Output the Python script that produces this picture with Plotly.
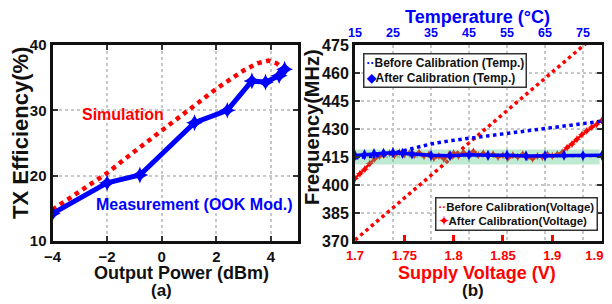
import plotly.graph_objects as go

FONT = "Liberation Sans, Arial, sans-serif"
BLUE = "#0000ff"
RED = "#ff0000"
BLACK = "#111111"
GRID = "#c8c8c8"

# ---------------- (a) TX efficiency vs output power ----------------
sim_power = [-4, -3, -2, -1, 0, 1, 2, 3, 3.5, 3.9, 4.2, 4.5]
sim_eff = [14.8, 17.6, 20.4, 23.7, 26.9, 30.2, 33.3, 36.1, 37.2, 37.6, 37.2, 36.3]

meas_power = [-4, -2, -0.8, 1.2, 2.4, 3.3, 3.8, 4.3, 4.5]
meas_eff = [14.2, 18.9, 20.1, 28.1, 30.0, 34.5, 34.3, 35.3, 36.3]

power_ticks = [-4, -2, 0, 2, 4]
eff_ticks = [10, 20, 30, 40]

# ---------------- (b) frequency vs temperature / supply voltage ----------------
temp_before_t = [15, 20, 25, 30, 35, 40, 45, 50, 55, 60, 65, 70, 75, 80]
temp_before_f = [414.5, 415.5, 417.0, 419.5, 422.0, 423.7, 425.0, 426.4, 427.7, 429.0, 430.3, 431.7, 433.0, 434.2]

temp_after_t = [15, 17.5, 20, 22.5, 25, 27.5, 30, 35, 40, 45, 50, 55, 60, 65, 70, 75, 80]
temp_after_f = [415.8, 416.3, 416.8, 417.0, 417.3, 416.9, 416.6, 415.9, 415.7, 416.2, 415.9,
                416.0, 415.6, 415.7, 416.0, 415.8, 415.9]

volt_before_v = [1.70, 1.75, 1.80, 1.85, 1.90, 1.95]
volt_before_f = [370.5, 393.0, 415.5, 438.0, 460.5, 483.0]

volt_after_v = [1.700, 1.705, 1.710, 1.715, 1.720, 1.725, 1.730, 1.735, 1.740, 1.745,
                1.750, 1.755, 1.760, 1.765, 1.770, 1.775, 1.780, 1.785, 1.790, 1.795,
                1.800, 1.805, 1.810, 1.815, 1.820, 1.825, 1.830, 1.835, 1.840, 1.845,
                1.850, 1.855, 1.860, 1.865, 1.870, 1.875, 1.880, 1.885, 1.890, 1.895,
                1.900, 1.905, 1.910, 1.915, 1.920, 1.925, 1.930, 1.935, 1.940, 1.945, 1.950]
volt_after_f = [403.5, 406.0, 408.5, 411.5, 414.0, 415.5, 416.5, 417.0, 416.0, 417.5,
                416.5, 417.0, 416.0, 417.5, 415.5, 416.5, 414.5, 415.5, 414.0, 416.0,
                417.0, 415.5, 417.5, 416.0, 418.0, 416.0, 417.0, 415.5, 416.5, 415.0,
                416.0, 414.5, 416.0, 415.0, 416.5, 415.0, 414.0, 415.5, 415.0, 416.5,
                415.5, 416.5, 417.5, 420.0, 422.0, 424.5, 427.0, 429.0, 431.0, 432.5, 434.5]

band_v = [1.70, 1.948]      # extent of the +/-1 % tolerance band
band_f = [411.0, 419.0]     # lower / upper frequency of the band

freq_ticks = [370, 385, 400, 415, 430, 445, 460, 475]
volt_ticks = [1.7, 1.75, 1.8, 1.85, 1.9, 1.95]
# the last label carries two no-break spaces so it stays inside the window
volt_labels = ["1.7", "1.75", "1.8", "1.85", "1.9", "1.95\u00a0\u00a0"]
temp_ticks = [15, 25, 35, 45, 55, 65, 75]

# The page body has an 8 px margin, so the figure is drawn at (8, 8)
# and sized to end exactly at the 612x304 window edge.
OFF = 8
W, H = 612 - OFF, 304 - OFF


def px(x):
    return (x - OFF) / W


def py(y):
    return 1 - (y - OFF) / H


fig = go.Figure()

# ---- panel (a)
fig.add_trace(go.Scatter(x=sim_power, y=sim_eff, mode="lines", name="Simulation",
                         line=dict(color=RED, width=4.5, dash="dot"),
                         xaxis="x", yaxis="y"))
fig.add_trace(go.Scatter(x=meas_power, y=meas_eff, mode="lines+markers",
                         name="Measurement (OOK Mod.)",
                         line=dict(color=BLUE, width=5),
                         marker=dict(symbol="star-diamond", size=12, color=BLUE),
                         xaxis="x", yaxis="y"))

# ---- panel (b): voltage traces first, then tolerance band, then temperature traces
fig.add_trace(go.Scatter(x=volt_before_v, y=volt_before_f, mode="lines",
                         name="Before Calibration(Voltage)",
                         line=dict(color=RED, width=3.5, dash="dot"),
                         xaxis="x2", yaxis="y2"))
fig.add_trace(go.Scatter(x=volt_after_v, y=volt_after_f, mode="lines+markers",
                         name="After Calibration(Voltage)",
                         line=dict(color=RED, width=2.5),
                         marker=dict(symbol="star-diamond", size=6, color=RED),
                         xaxis="x2", yaxis="y2"))
fig.add_trace(go.Scatter(x=[band_v[0], band_v[1], band_v[1], band_v[0], band_v[0]],
                         y=[band_f[0], band_f[0], band_f[1], band_f[1], band_f[0]],
                         mode="lines", fill="toself", fillcolor="rgba(70,195,125,0.35)",
                         line=dict(width=0), hoverinfo="skip",
                         xaxis="x2", yaxis="y2"))
fig.add_trace(go.Scatter(x=temp_before_t, y=temp_before_f, mode="lines",
                         name="Before Calibration (Temp.)",
                         line=dict(color=BLUE, width=3.5, dash="dot"),
                         xaxis="x3", yaxis="y2"))
fig.add_trace(go.Scatter(x=temp_after_t, y=temp_after_f, mode="lines+markers",
                         name="After Calibration (Temp.)",
                         line=dict(color=BLUE, width=3.5),
                         marker=dict(symbol="diamond-tall", size=8, color=BLUE),
                         xaxis="x3", yaxis="y2"))

bold = dict(family=FONT, weight="bold")

axis_common = dict(showline=True, linewidth=3, linecolor=BLACK, zeroline=False,
                   showgrid=True, gridcolor=GRID, griddash="dot", gridwidth=2,
                   ticks="inside", ticklen=5, tickwidth=1.5, tickcolor="#333",
                   automargin=False)

fig.update_layout(
    width=W, height=H, margin=dict(l=0, r=0, t=0, b=0, autoexpand=False),
    paper_bgcolor="white", plot_bgcolor="white", showlegend=False,
    font=dict(family=FONT, color=BLACK),
    xaxis=dict(axis_common, domain=[px(52.5), px(298.3)], range=[-4, 5],
               tickvals=power_ticks, mirror="ticks", anchor="y",
               tickfont=dict(bold, size=15, color=BLACK)),
    yaxis=dict(axis_common, domain=[py(241), py(45)], range=[10, 40],
               tickvals=eff_ticks, mirror="ticks", anchor="x",
               tickfont=dict(bold, size=15, color=BLACK)),
    xaxis2=dict(showline=True, linewidth=3, linecolor=BLACK, zeroline=False,
                showgrid=False, domain=[px(355), px(602)], range=[1.7, 1.9504],
                tickvals=volt_ticks, ticktext=volt_labels, anchor="y2",
                ticks="inside", ticklen=6, tickwidth=2.5, tickcolor=RED,
                automargin=False, ticklabeloverflow="allow",
                tickfont=dict(bold, size=13, color=RED)),
    xaxis3=dict(showline=True, linewidth=3, linecolor=BLACK, zeroline=False,
                showgrid=True, gridcolor=GRID, griddash="dot", gridwidth=2,
                overlaying="x2", side="top", anchor="y2", range=[15, 80],
                tickvals=temp_ticks, ticks="", automargin=False,
                ticklabeloverflow="allow",
                tickfont=dict(bold, size=12.5, color=BLUE)),
    yaxis2=dict(axis_common, domain=[py(241), py(45)], range=[370, 475],
                tickvals=freq_ticks, mirror="ticks", anchor="x2",
                tickfont=dict(bold, size=16, color=BLACK)),
)

ann = []


def text(x, y, s, size, color=BLACK, angle=0):
    ann.append(dict(x=px(x), y=py(y), xref="paper", yref="paper", text=s,
                    xanchor="center", yanchor="middle",
                    showarrow=False, textangle=angle,
                    font=dict(bold, size=size, color=color)))


text(123, 114, "Simulation", 16, RED)
text(194, 204, "Measurement (OOK Mod.)", 16, BLUE)
text(181, 273, "Output Power (dBm)", 18)
text(161, 290, "(a)", 17)
text(20, 133, "TX Efficiency(%)", 22, angle=-90)

text(477, 16.5, "Temperature (°C)", 18, BLUE)
text(477, 273, "Supply Voltage (V)", 18, RED)
text(473, 290, "(b)", 17)
text(312, 127, "Frequency(MHz)", 20, angle=-90)

# legend boxes
ann.append(dict(x=px(363), y=py(53), xref="paper", yref="paper", xanchor="left",
                yanchor="top", align="left", showarrow=False,
                bgcolor="white", bordercolor="#333", borderwidth=1.5, borderpad=1,
                font=dict(bold, size=12, color=BLACK),
                text=f"<span style='color:{BLUE}'>··</span>Before Calibration (Temp.)<br>"
                     f"<span style='color:{BLUE}'>◆</span>After Calibration (Temp.)"))
ann.append(dict(x=px(435), y=py(197), xref="paper", yref="paper", xanchor="left",
                yanchor="top", align="left", showarrow=False,
                bgcolor="white", bordercolor="#333", borderwidth=1.5, borderpad=2,
                font=dict(bold, size=11.5, color=BLACK),
                text=f"<span style='color:{RED}'>··</span>Before Calibration(Voltage)<br>"
                     f"<span style='color:{RED}'>✦</span>After Calibration(Voltage)"))

fig.update_layout(annotations=ann)
fig.write_html("out.html")
